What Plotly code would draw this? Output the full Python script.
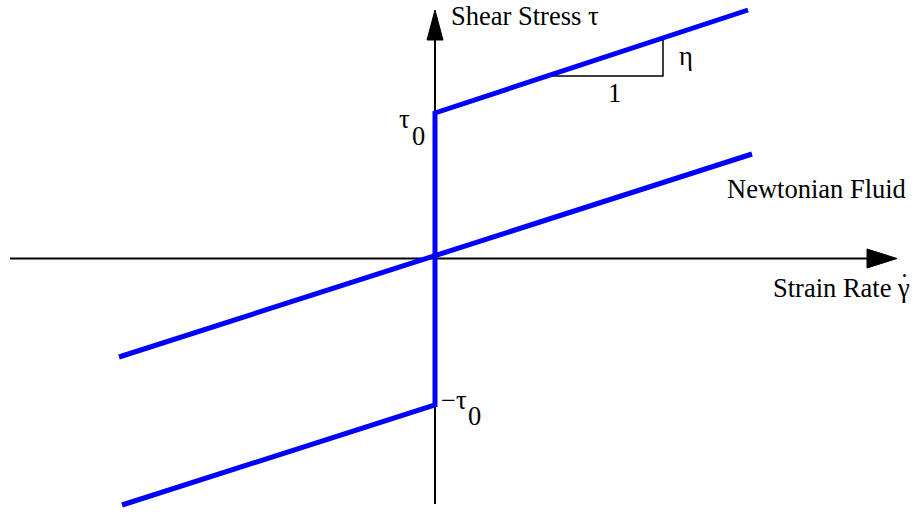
import plotly.graph_objects as go

# Bingham plastic vs Newtonian fluid: shear stress against strain rate
# (abstract units, origin at the axes crossing)
bingham_x = [-3.13, 0.0, 0.0, 3.13]
bingham_y = [-2.465, -1.465, 1.455, 2.485]

newton_x = [-3.16, 3.17]
newton_y = [-0.985, 1.045]

# slope triangle on the upper Bingham branch (run 1, rise eta)
tri_x = [1.17, 2.28, 2.28]
tri_y = [1.825, 1.825, 2.195]

# axis extents and arrow tips
h_axis_x = [-4.25, 4.35]
v_axis_y = [-2.455, 2.2]
h_tip = 4.62
v_tip = 2.485

BLUE = "#0000ff"
FONT = "Liberation Serif"

fig = go.Figure()

# axes
fig.add_trace(go.Scatter(x=h_axis_x, y=[0, 0], mode="lines",
                         line=dict(color="black", width=2), hoverinfo="skip"))
fig.add_trace(go.Scatter(x=[0, 0], y=v_axis_y, mode="lines",
                         line=dict(color="black", width=2), hoverinfo="skip"))

# arrow heads
fig.add_trace(go.Scatter(x=[h_tip, h_tip - 0.30, h_tip - 0.30, h_tip],
                         y=[0, 0.095, -0.095, 0], mode="lines", fill="toself",
                         fillcolor="black", line=dict(color="black", width=1),
                         hoverinfo="skip"))
fig.add_trace(go.Scatter(x=[0, -0.08, 0.08, 0],
                         y=[v_tip, v_tip - 0.30, v_tip - 0.30, v_tip], mode="lines",
                         fill="toself", fillcolor="black",
                         line=dict(color="black", width=1), hoverinfo="skip"))

# slope triangle
fig.add_trace(go.Scatter(x=tri_x, y=tri_y, mode="lines",
                         line=dict(color="black", width=1.5), hoverinfo="skip"))

# Newtonian fluid line
fig.add_trace(go.Scatter(x=newton_x, y=newton_y, mode="lines",
                         line=dict(color=BLUE, width=5), hoverinfo="skip"))

# Bingham plastic
fig.add_trace(go.Scatter(x=bingham_x, y=bingham_y, mode="lines",
                         line=dict(color=BLUE, width=5), hoverinfo="skip"))

def label(text, x, y, xanchor="left", size=26.5):
    fig.add_annotation(x=x, y=y, text=text, showarrow=False, xanchor=xanchor,
                       yanchor="middle", font=dict(family=FONT, size=size, color="black"))

label("Shear Stress τ", 0.14, 2.43)
label("Newtonian Fluid", 2.90, 0.70)
label("Strain Rate γ", 3.36, -0.29)
label("˙", 4.69, -0.24, xanchor="center")   # dot over gamma
label("η", 2.42, 2.03)
label("1", 1.79, 1.66, xanchor="center")
label("τ", -0.31, 1.395, xanchor="center")
label("0", -0.17, 1.23, xanchor="center")
label("−τ", 0.035, -1.41)
label("0", 0.39, -1.57, xanchor="center")

fig.update_layout(
    width=917, height=512,
    margin=dict(l=0, r=0, t=0, b=0),
    paper_bgcolor="white", plot_bgcolor="white",
    showlegend=False,
    xaxis=dict(range=[-4.35, 4.82], visible=False, fixedrange=True),
    yaxis=dict(range=[-2.535, 2.585], visible=False, fixedrange=True),
)

fig.write_html("out.html")
